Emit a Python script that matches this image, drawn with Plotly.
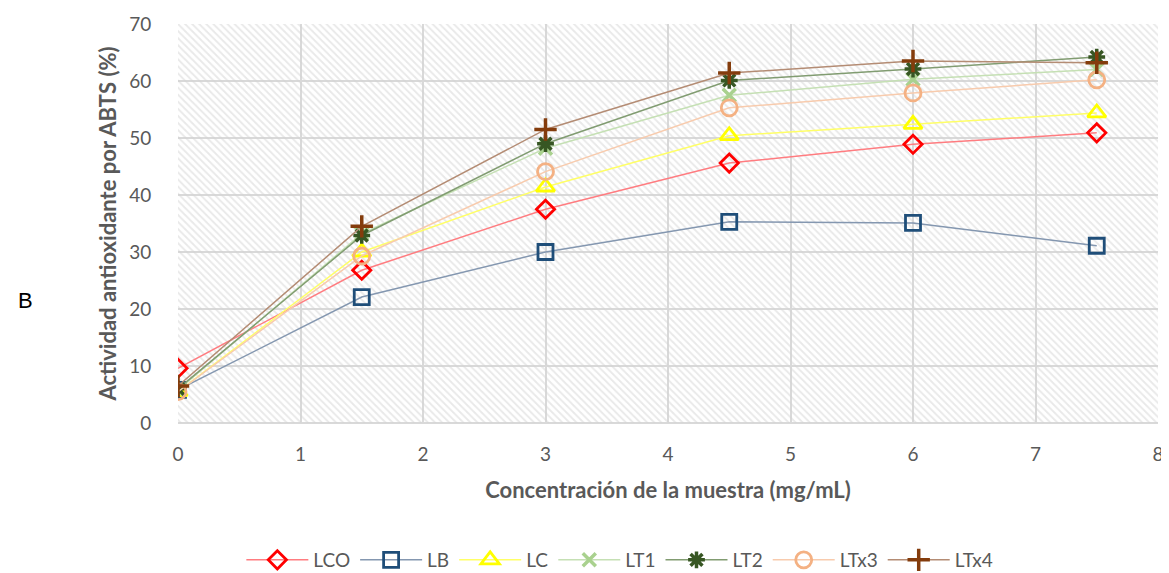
import plotly.graph_objects as go

x_conc = [0, 1.5, 3, 4.5, 6, 7.5]
LCO = [9.6, 26.8, 37.5, 45.6, 48.9, 50.9]
LB = [5.8, 22.1, 30.0, 35.3, 35.1, 31.1]
LC = [5.5, 30.0, 41.4, 50.4, 52.4, 54.4]
LT1 = [5.8, 33.2, 48.2, 57.5, 60.3, 62.0]
LT2 = [6.0, 32.9, 49.0, 60.1, 62.1, 64.2]
LTx3 = [5.5, 29.3, 44.1, 55.3, 57.9, 60.2]
LTx4 = [6.5, 34.5, 51.5, 61.4, 63.5, 63.2]

series = [
    ("LCO", LCO, "diamond-open", "#FF0000", "#FF7C80", 14),
    ("LB", LB, "square-open", "#1F4E79", "#8497B0", 15),
    ("LC", LC, "triangle-up-open", "#FFFF00", "#FFFF66", 16),
    ("LT1", LT1, "x-thin-open", "#A9D18E", "#C5E0B4", 13),
    ("LT2", LT2, "asterisk-open", "#375623", "#819C71", 14),
    ("LTx3", LTx3, "circle-open", "#F4B183", "#F8CBAD", 16),
    ("LTx4", LTx4, "cross-thin-open", "#843C0C", "#B48C74", 16),
]

fig = go.Figure()

# hatched plot background
fig.add_trace(go.Bar(
    x=[4], y=[70], width=[8], base=0,
    marker=dict(color="rgba(0,0,0,0)", line=dict(width=0),
                pattern=dict(shape="\\", fgcolor="#D3D3D3", bgcolor="rgba(0,0,0,0)",
                             size=5, solidity=0.38, fillmode="overlay")),
    showlegend=False, hoverinfo="skip",
))

for name, ys, sym, mcol, lcol, msz in series:
    lw = 3.5 if ("thin" in sym or "asterisk" in sym) else 2.8
    fig.add_trace(go.Scatter(
        x=x_conc, y=ys, name=name, mode="lines+markers",
        line=dict(color=lcol, width=1.5),
        marker=dict(symbol=sym, size=msz, color=mcol,
                    line=dict(color=mcol, width=lw)),
    ))

font_fam = "Lato, 'Liberation Sans', sans-serif"

# page body has an 8px margin, figure is offset by (8, 8)
fig.update_layout(
    width=1161, height=565,
    margin=dict(l=170, r=11, t=16, b=150, autoexpand=False),
    plot_bgcolor="white", paper_bgcolor="white",
    font=dict(family=font_fam, size=19, color="#595959"),
    bargap=0,
    legend=dict(orientation="h", x=0.527, y=0.023, xref="container", yref="container",
                xanchor="center", yanchor="middle",
                font=dict(size=19, color="#595959"), itemwidth=62,
                traceorder="normal"),
    xaxis=dict(range=[0, 8], dtick=1, showgrid=True, gridcolor="#D9D9D9", gridwidth=1.5,
               zeroline=False, showline=False, ticks="outside", ticklen=14,
               tickcolor="rgba(0,0,0,0)", automargin=False,
               tickfont=dict(size=19, color="#595959"),
               title=dict(text="<b>Concentración de la muestra (mg/mL)</b>",
                          font=dict(size=22, color="#595959"), standoff=18)),
    yaxis=dict(range=[0, 70], dtick=10, showgrid=True, gridcolor="#D9D9D9", gridwidth=1.5,
               zeroline=True, zerolinecolor="#D9D9D9", zerolinewidth=1.5,
               showline=False, ticks="outside", ticklen=22, tickcolor="rgba(0,0,0,0)",
               automargin=False,
               tickfont=dict(size=19, color="#595959"),
               title=dict(text="<b>Actividad antioxidante por ABTS (%)</b>",
                          font=dict(size=22, color="#595959"), standoff=6)),
    annotations=[dict(text="B", x=(17 - 170) / 980, y=(415 - 292) / 399,
                      xref="paper", yref="paper", xanchor="center", yanchor="middle",
                      showarrow=False,
                      font=dict(size=22, color="black",
                                family="'Liberation Sans', Arial, sans-serif"))],
)

fig.write_html("out.html")
